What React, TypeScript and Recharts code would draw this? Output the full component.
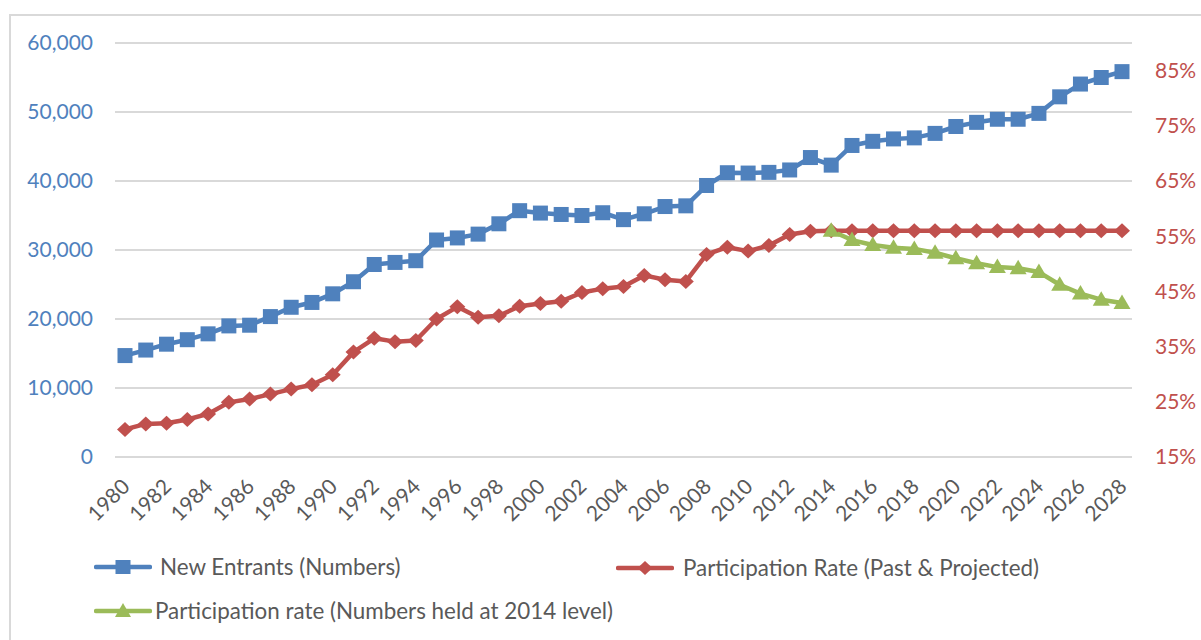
import React from "react";
import { LineChart, Line, XAxis, YAxis, CartesianGrid } from "recharts";

const years = [
  "1980","1981","1982","1983","1984","1985","1986","1987","1988","1989",
  "1990","1991","1992","1993","1994","1995","1996","1997","1998","1999",
  "2000","2001","2002","2003","2004","2005","2006","2007","2008","2009",
  "2010","2011","2012","2013","2014","2015","2016","2017","2018","2019",
  "2020","2021","2022","2023","2024","2025","2026","2027","2028",
];

const newEntrants = [
  14700, 15500, 16350, 17000, 17850, 19000, 19100, 20350, 21700, 22400,
  23650, 25400, 27900, 28200, 28450, 31450, 31750, 32300, 33800, 35700,
  35350, 35150, 35000, 35400, 34400, 35250, 36300, 36400, 39350, 41200,
  41150, 41250, 41600, 43400, 42300, 45150, 45750, 46100, 46250, 46900,
  47900, 48500, 48950, 48950, 49800, 52200, 54050, 55000, 55850,
];

const participationRate = [
  20.0, 21.0, 21.1, 21.8, 22.8, 24.9, 25.5, 26.4, 27.3, 28.1,
  29.9, 34.0, 36.5, 35.9, 36.1, 40.0, 42.2, 40.3, 40.6, 42.3,
  42.8, 43.2, 44.8, 45.5, 45.9, 47.9, 47.1, 46.8, 51.7, 53.0,
  52.3, 53.3, 55.3, 55.9, 56.0, 56.0, 56.0, 56.0, 56.0, 56.0,
  56.0, 56.0, 56.0, 56.0, 56.0, 56.0, 56.0, 56.0, 56.0,
];

const participationHeld: (number | null)[] = [
  null, null, null, null, null, null, null, null, null, null,
  null, null, null, null, null, null, null, null, null, null,
  null, null, null, null, null, null, null, null, null, null,
  null, null, null, null, 56.0, 54.3, 53.4, 52.9, 52.7, 52.0,
  51.0, 50.1, 49.4, 49.2, 48.5, 46.2, 44.6, 43.5, 42.9,
];

const leftTicks = [0, 10000, 20000, 30000, 40000, 50000, 60000];
const rightTicks = [15, 25, 35, 45, 55, 65, 75, 85];

const seriesNames = [
  "New Entrants (Numbers)",
  "Participation Rate (Past & Projected)",
  "Participation rate (Numbers held at 2014 level)",
];

const BLUE = "#4F81BD";
const RED = "#C0504D";
const GREEN = "#9BBB59";
const GREY = "#595959";
const FONT = "Lato, 'Open Sans', sans-serif";

const data = years.map((y, i) => ({
  year: y,
  entrants: newEntrants[i],
  rate: participationRate[i],
  held: participationHeld[i],
}));

const SquareDot = (props: any) => {
  const { cx, cy, value, index } = props;
  if (cx == null || cy == null || value == null) return <g key={`s${index}`} />;
  return <rect key={`s${index}`} x={cx - 7.5} y={cy - 7.5} width={15} height={15} fill={BLUE} />;
};

const DiamondDot = (props: any) => {
  const { cx, cy, value, index } = props;
  if (cx == null || cy == null || value == null) return <g key={`d${index}`} />;
  return (
    <path
      key={`d${index}`}
      d={`M${cx},${cy - 7.5} L${cx + 8},${cy} L${cx},${cy + 7.5} L${cx - 8},${cy} Z`}
      fill={RED}
    />
  );
};

const TriangleDot = (props: any) => {
  const { cx, cy, value, index } = props;
  if (cx == null || cy == null || value == null) return <g key={`t${index}`} />;
  return (
    <path
      key={`t${index}`}
      d={`M${cx},${cy - 8.5} L${cx + 8.5},${cy + 6} L${cx - 8.5},${cy + 6} Z`}
      fill={GREEN}
    />
  );
};

const XTick = (props: any) => {
  const { x, y, payload } = props;
  return (
    <g transform={`translate(${x},${y})`}>
      <text
        x={6}
        y={31}
        textAnchor="end"
        transform="rotate(-45, 6, 31)"
        fill={GREY}
        fontSize={21}
        fontFamily={FONT}
      >
        {payload.value}
      </text>
    </g>
  );
};

const LegendItem = ({
  lineLeft, lineRight, textLeft, cy, color, marker, label,
}: {
  lineLeft: number; lineRight: number; textLeft: number; cy: number;
  color: string; marker: string; label: string;
}) => {
  const w = lineRight - lineLeft;
  const mid = w / 2;
  let shape: React.ReactNode = null;
  if (marker === "square") shape = <rect x={mid - 7.5} y={12 - 7} width={15} height={14} fill={color} />;
  if (marker === "diamond") shape = <path d={`M${mid},${12 - 7} L${mid + 7.5},12 L${mid},${12 + 7} L${mid - 7.5},12 Z`} fill={color} />;
  if (marker === "triangle") shape = <path d={`M${mid},${12 - 8} L${mid + 8},${12 + 6} L${mid - 8},${12 + 6} Z`} fill={color} />;
  return (
    <>
      <svg width={w} height={24} style={{ position: "absolute", left: lineLeft, top: cy - 12, display: "block" }}>
        <line x1={2} y1={12} x2={w - 2} y2={12} stroke={color} strokeWidth={4.5} strokeLinecap="round" />
        {shape}
      </svg>
      <div
        style={{
          position: "absolute", left: textLeft, top: cy - 14, height: 28, lineHeight: "28px",
          fontFamily: FONT, fontSize: 22.4, color: GREY, whiteSpace: "nowrap",
        }}
      >
        {label}
      </div>
    </>
  );
};

export default function App() {
  return (
    <div style={{ position: "fixed", left: 0, top: 0, width: 1201, height: 640, overflow: "hidden", background: "#fff" }}>
      <div
        style={{
          position: "absolute", left: 9, top: 14, width: 1400, height: 800,
          borderLeft: "2px solid #D9D9D9", borderTop: "2px solid #D9D9D9",
        }}
      />
      <div style={{ position: "absolute", left: 0, top: 0 }}>
        <LineChart width={1201} height={640} data={data} margin={{ top: 43, right: 0, bottom: 83, left: 0 }}>
          <CartesianGrid yAxisId="left" vertical={false} stroke="#D9D9D9" strokeWidth={2} />
          <XAxis
            dataKey="year"
            interval={1}
            axisLine={false}
            tickLine={false}
            tickSize={0}
            tickMargin={0}
            height={100}
            padding={{ left: 10, right: 10 }}
            tick={<XTick />}
          />
          <YAxis
            yAxisId="left"
            orientation="left"
            width={115}
            domain={[0, 60000]}
            ticks={leftTicks}
            axisLine={false}
            tickLine={false}
            tickSize={0}
            tickMargin={22}
            tick={{ fill: BLUE, fontSize: 21, fontFamily: FONT }}
            tickFormatter={(v: number) => v.toLocaleString("en-US")}
          />
          <YAxis
            yAxisId="right"
            orientation="right"
            width={69}
            domain={[15, 90]}
            ticks={rightTicks}
            axisLine={false}
            tickLine={false}
            tickSize={0}
            tickMargin={23}
            tick={{ fill: RED, fontSize: 21, fontFamily: FONT, textAnchor: "start" }}
            tickFormatter={(v: number) => `${v}%`}
          />
          <Line
            yAxisId="left"
            dataKey="entrants"
            name={seriesNames[0]}
            stroke={BLUE}
            strokeWidth={4.5}
            strokeLinejoin="round"
            dot={SquareDot}
            activeDot={false}
            isAnimationActive={false}
          />
          <Line
            yAxisId="right"
            dataKey="rate"
            name={seriesNames[1]}
            stroke={RED}
            strokeWidth={4.5}
            strokeLinejoin="round"
            dot={DiamondDot}
            activeDot={false}
            isAnimationActive={false}
          />
          <Line
            yAxisId="right"
            dataKey="held"
            name={seriesNames[2]}
            stroke={GREEN}
            strokeWidth={4.5}
            strokeLinejoin="round"
            dot={TriangleDot}
            activeDot={false}
            isAnimationActive={false}
          />
        </LineChart>
      </div>
      <LegendItem lineLeft={94} lineRight={152} textLeft={160} cy={567} color={BLUE} marker="square" label={seriesNames[0]} />
      <LegendItem lineLeft={616} lineRight={674} textLeft={683} cy={568} color={RED} marker="diamond" label={seriesNames[1]} />
      <LegendItem lineLeft={94} lineRight={152} textLeft={155} cy={611} color={GREEN} marker="triangle" label={seriesNames[2]} />
    </div>
  );
}
